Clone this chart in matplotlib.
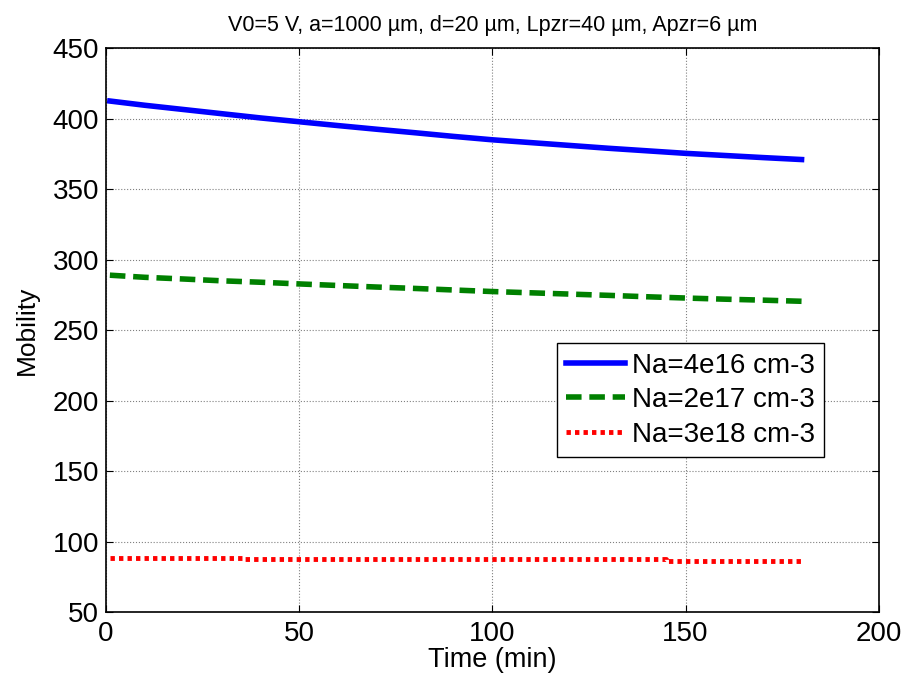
import matplotlib
matplotlib.use("Agg")
import matplotlib.pyplot as plt

# Time axis (min) and mobility values
time_min = [1, 10, 20, 30, 40, 50, 60, 70, 80, 90, 100, 110, 120, 130, 140, 150, 160, 170, 180]
mob_4e16 = [412.5, 409.5, 406.5, 403.5, 400.5, 397.8, 395.1, 392.5, 390.0, 387.4,
            385.0, 383.0, 381.0, 379.0, 377.2, 375.4, 373.9, 372.4, 371.0]
mob_2e17 = [289.0, 287.5, 286.3, 285.0, 284.0, 282.8, 281.7, 280.6, 279.6, 278.5,
            277.4, 276.5, 275.6, 274.7, 273.7, 272.8, 272.0, 271.3, 270.5]
# the heavily doped curve only changes in small steps
time_3e18 = [1, 36, 145, 180]
mob_3e18 = [88.3, 87.4, 86.5, 86.5]

labels = ['Na=4e16 cm-3', 'Na=2e17 cm-3', 'Na=3e18 cm-3']
title = 'V0=5 V, a=1000 \u00b5m, d=20 \u00b5m, Lpzr=40 \u00b5m, Apzr=6 \u00b5m'

plt.rcParams['font.family'] = ['Liberation Sans', 'DejaVu Sans']

fig = plt.figure(figsize=(9.06, 6.78), dpi=100)
ax = fig.add_axes([0.117, 0.097, 0.853, 0.832])

ax.plot(time_min, mob_4e16, color='#0000ff', linewidth=4, label=labels[0])
ax.plot(time_min, mob_2e17, color='#008000', linewidth=4, dashes=(2.8, 1.4), label=labels[1])
ax.plot(time_3e18, mob_3e18, color='#ff0000', linewidth=3.5, dashes=(0.9, 0.85),
        drawstyle='steps-post', label=labels[2])

ax.set_xlim(0, 200)
ax.set_ylim(50, 450)
ax.set_xticks(range(0, 201, 50))
ax.set_yticks(range(50, 451, 50))
ax.tick_params(direction='in', top=True, right=True, labelsize=20, length=5)
ax.tick_params(axis='x', pad=6)
ax.tick_params(axis='y', pad=5)
ax.grid(True, color='#808080', linestyle=':', linewidth=0.8)
for s in ax.spines.values():
    s.set_linewidth(1.2)

ax.set_xlabel('Time (min)', fontsize=19.5, labelpad=0)
ax.set_ylabel('Mobility', fontsize=19, labelpad=10)
ax.set_title(title, fontsize=15.5, pad=12)

leg = ax.legend(loc='upper left', bbox_to_anchor=(0.583, 0.477), borderaxespad=0,
                fontsize=20, fancybox=False, framealpha=1, edgecolor='black',
                handlelength=2.1, handletextpad=0.25, labelspacing=0.3, borderpad=0.35)
leg.get_frame().set_linewidth(1.0)

fig.savefig('out.png', dpi=100)
